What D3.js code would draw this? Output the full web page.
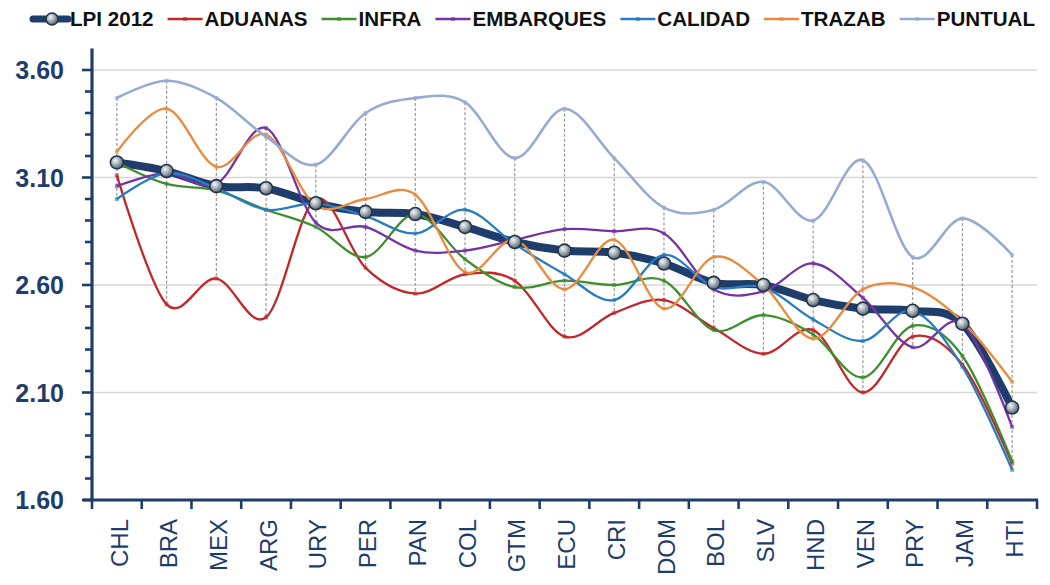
<!DOCTYPE html>
<html>
<head>
<meta charset="utf-8">
<script src="https://cdn.jsdelivr.net/npm/d3@7"></script>
<style>
  html, body { margin: 0; padding: 0; background: #fff; }
  svg { display: block; }
</style>
</head>
<body>
<svg id="chart" width="1050" height="585"></svg>
<script>
// ---------- data ----------
const categories = ["CHL","BRA","MEX","ARG","URY","PER","PAN","COL","GTM","ECU","CRI","DOM","BOL","SLV","HND","VEN","PRY","JAM","HTI"];
const lpi2012   = [3.17,3.13,3.06,3.05,2.98,2.94,2.93,2.87,2.80,2.76,2.75,2.70,2.61,2.60,2.53,2.49,2.48,2.42,2.03];
const aduanas   = [3.11,2.51,2.63,2.45,3.00,2.68,2.56,2.65,2.62,2.36,2.47,2.53,2.40,2.28,2.39,2.10,2.36,2.23,1.77];
const infra     = [3.17,3.07,3.04,2.95,2.87,2.73,2.93,2.72,2.59,2.62,2.60,2.62,2.39,2.46,2.37,2.17,2.41,2.27,1.78];
const embarques = [3.06,3.12,3.07,3.33,2.89,2.87,2.76,2.76,2.81,2.86,2.85,2.84,2.58,2.57,2.70,2.54,2.31,2.42,1.94];
const calidad   = [3.00,3.12,3.05,2.95,2.98,2.92,2.84,2.95,2.79,2.65,2.53,2.74,2.59,2.59,2.44,2.34,2.48,2.22,1.74];
const trazab    = [3.22,3.42,3.15,3.30,2.97,3.00,3.02,2.66,2.81,2.58,2.81,2.49,2.73,2.60,2.35,2.58,2.59,2.43,2.15];
const puntual   = [3.47,3.55,3.47,3.29,3.16,3.40,3.47,3.45,3.19,3.42,3.19,2.96,2.95,3.08,2.90,3.18,2.73,2.91,2.74];
const yTickLabels = ["1.60","2.10","2.60","3.10","3.60"];
const seriesNames = ["LPI 2012","ADUANAS","INFRA","EMBARQUES","CALIDAD","TRAZAB","PUNTUAL"];

(function () {
const subSeries = [
  {name:"ADUANAS",   values:aduanas,   color:"#C0282A"},
  {name:"INFRA",     values:infra,     color:"#3E8E2E"},
  {name:"EMBARQUES", values:embarques, color:"#7334A4"},
  {name:"CALIDAD",   values:calidad,   color:"#2A7CC0"},
  {name:"TRAZAB",    values:trazab,    color:"#E88B3E"},
  {name:"PUNTUAL",   values:puntual,   color:"#97ABD1"}
];
const navy = "#1F3D6B";

// ---------- layout ----------
const svg = d3.select("#chart");
const pLeft = 92, pRight = 1037, pTop = 48.5, pBottom = 500;

const x = d3.scaleBand().domain(categories).range([pLeft, pRight]).padding(0);
const y = d3.scaleLinear().domain([1.6, 3.7]).range([pBottom, pTop]);
const cx = c => x(c) + x.bandwidth() / 2;

// defs
const defs = svg.append("defs");
const grad = defs.append("radialGradient").attr("id","sphere")
  .attr("cx","38%").attr("cy","35%").attr("r","65%");
grad.append("stop").attr("offset","0%").attr("stop-color","#F4F6F8");
grad.append("stop").attr("offset","45%").attr("stop-color","#AEB8BF");
grad.append("stop").attr("offset","100%").attr("stop-color","#56626C");

svg.append("rect").attr("width",1050).attr("height",585).attr("fill","#fff");

// gridlines
const majors = yTickLabels.map(Number);
svg.append("g").selectAll("line").data(majors).join("line")
  .attr("x1", pLeft).attr("x2", pRight)
  .attr("y1", d => y(d)).attr("y2", d => y(d))
  .attr("stroke", "#D6D6D6").attr("stroke-width", 1.5);

// high-low drop lines
const allSeries = [lpi2012, ...subSeries.map(s => s.values)];
svg.append("g").selectAll("line").data(categories).join("line")
  .attr("x1", d => cx(d)).attr("x2", d => cx(d))
  .attr("y1", (d,i) => y(d3.max(allSeries, s => s[i])))
  .attr("y2", (d,i) => y(d3.min(allSeries, s => s[i])))
  .attr("stroke", "#9A9A9A").attr("stroke-width", 1.2)
  .attr("stroke-dasharray", "3,2");

const line = d3.line().curve(d3.curveCardinal.tension(0));

// LPI line (bottom)
svg.append("path")
  .attr("d", line(categories.map((c,i) => [cx(c), y(lpi2012[i])])))
  .attr("fill","none").attr("stroke", navy).attr("stroke-width", 8)
  .attr("stroke-linejoin","round").attr("stroke-linecap","round");

// sub series lines
subSeries.forEach(s => {
  svg.append("path")
    .attr("d", line(categories.map((c,i) => [cx(c), y(s.values[i])])))
    .attr("fill","none").attr("stroke", s.color)
    .attr("stroke-width", s.name === "PUNTUAL" ? 2.6 : 2.3);
});
// small square markers
subSeries.forEach(s => {
  svg.append("g").selectAll("rect").data(categories).join("rect")
    .attr("x", (c) => cx(c) - 2).attr("y", (c,i) => y(s.values[i]) - 2)
    .attr("width", 4).attr("height", 4)
    .attr("fill", s.color).attr("opacity", 0.6);
});

// LPI spheres
svg.append("g").selectAll("circle").data(categories).join("circle")
  .attr("cx", c => cx(c)).attr("cy", (c,i) => y(lpi2012[i]))
  .attr("r", 6.5).attr("fill","url(#sphere)")
  .attr("stroke","#22344A").attr("stroke-width",1.6);

// y axis
const yAxisG = svg.append("g");
yAxisG.append("line").attr("x1",pLeft).attr("x2",pLeft).attr("y1",pTop).attr("y2",pBottom+1.5)
  .attr("stroke",navy).attr("stroke-width",3.2);
const minorTicks = d3.range(16, 37).map(v => v/10);
yAxisG.selectAll("line.t").data(minorTicks).join("line").attr("class","t")
  .attr("x1", d => majors.some(m => Math.abs(m-d)<1e-6) ? pLeft-10 : pLeft-7)
  .attr("x2", pLeft).attr("y1", d => y(d)).attr("y2", d => y(d))
  .attr("stroke",navy).attr("stroke-width",2.6);
yAxisG.selectAll("text").data(yTickLabels).join("text")
  .attr("x", 64).attr("y", d => y(+d)).attr("dy","0.36em")
  .attr("text-anchor","end")
  .attr("font-family","'Liberation Sans', Arial, sans-serif")
  .attr("font-weight","bold").attr("font-size",25).attr("fill",navy)
  .text(d => d);

// x axis
const xAxisG = svg.append("g");
xAxisG.append("line").attr("x1",83).attr("x2",pRight+1).attr("y1",pBottom).attr("y2",pBottom)
  .attr("stroke",navy).attr("stroke-width",3.2);
const bounds = categories.map(c => x(c)).concat([pRight]);
xAxisG.selectAll("line.t").data(bounds).join("line").attr("class","t")
  .attr("x1", d => d).attr("x2", d => d).attr("y1", pBottom).attr("y2", pBottom+9)
  .attr("stroke",navy).attr("stroke-width",2.6);
xAxisG.selectAll("text").data(categories).join("text")
  .attr("transform", c => `translate(${cx(c)+2},519) rotate(-90)`)
  .attr("dy","0.36em").attr("text-anchor","end")
  .attr("font-family","'Liberation Sans', Arial, sans-serif")
  .attr("font-size",24).attr("fill",navy)
  .text(c => c);

// legend
const legend = svg.append("g");
const legendColors = [navy, ...subSeries.map(s => s.color)];
let lx = 33;
const ly = 19;
seriesNames.forEach((name, i) => {
  const g = legend.append("g");
  if (i === 0) {
    g.append("line").attr("x1",lx).attr("x2",lx+35).attr("y1",ly).attr("y2",ly)
      .attr("stroke",navy).attr("stroke-width",7).attr("stroke-linecap","round");
    g.append("circle").attr("cx",lx+19).attr("cy",ly).attr("r",6)
      .attr("fill","url(#sphere)").attr("stroke","#22344A").attr("stroke-width",1.5);
  } else {
    g.append("line").attr("x1",lx).attr("x2",lx+35).attr("y1",ly).attr("y2",ly)
      .attr("stroke",legendColors[i]).attr("stroke-width",2.6);
    g.append("rect").attr("x",lx+15.5).attr("y",ly-2).attr("width",4).attr("height",4)
      .attr("fill",legendColors[i]).attr("opacity",0.6);
  }
  const t = g.append("text").attr("x", lx+37).attr("y", ly).attr("dy","0.36em")
    .attr("font-family","'Liberation Sans', Arial, sans-serif")
    .attr("font-weight","bold").attr("font-size",20.6).attr("fill","#111")
    .text(name);
  lx += 37 + t.node().getComputedTextLength() + 14;
});
})();
</script>
</body>
</html>
